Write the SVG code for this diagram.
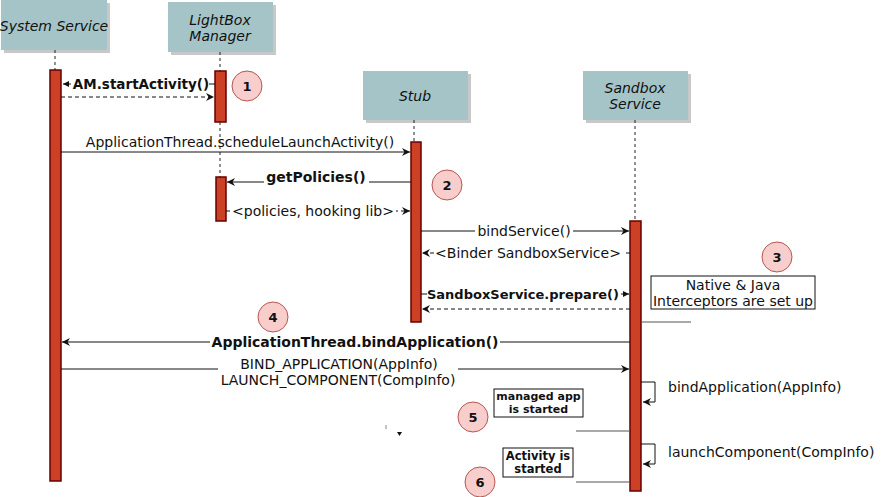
<svg xmlns="http://www.w3.org/2000/svg" width="883" height="497" viewBox="0 0 883 497">
<defs>
<style>
.actor{fill:#a4c4c8}
.shadow{fill:#c8c8c8}
.at{font-family:"DejaVu Sans",Verdana,sans-serif;font-size:14px;font-style:italic;fill:#111;text-anchor:middle}
.life{stroke:#222;stroke-width:1;stroke-dasharray:3,3;fill:none}
.bar{fill:#cc4125;stroke:#660000;stroke-width:1.5}
.msg{stroke:#111;stroke-width:1;fill:none}
.ret{stroke:#111;stroke-width:1;fill:none;stroke-dasharray:4,3}
.lbl{font-family:"DejaVu Sans",Verdana,sans-serif;font-size:14px;fill:#111;text-anchor:middle}
.b{font-weight:bold}
.lbg{fill:#fff}
.circ{fill:#f8cecc;stroke:#b85450;stroke-width:1}
.num{font-family:"DejaVu Sans",Verdana,sans-serif;font-size:13px;font-weight:bold;fill:#111;text-anchor:middle}
.note{fill:#fff;stroke:#111;stroke-width:1}
.nt{font-family:"DejaVu Sans",Verdana,sans-serif;fill:#111;text-anchor:middle}
.gl{stroke:#555;stroke-width:1;fill:none}
</style>
<marker id="ah" markerWidth="10" markerHeight="8" refX="8" refY="4" orient="auto" markerUnits="userSpaceOnUse">
<path d="M0,0 L8,4 L0,8 L2.5,4 z" fill="#111"/>
</marker>
<marker id="ahs" markerWidth="8" markerHeight="6" refX="6" refY="3" orient="auto" markerUnits="userSpaceOnUse">
<path d="M0,0 L6,3 L0,6 z" fill="#111"/>
</marker>
</defs>
<rect width="883" height="497" fill="#fff"/>

<g id="system-service">
<rect class="shadow" x="4" y="3" width="106" height="50"/>
<rect class="actor" x="1" y="0" width="106" height="50"/>
<text class="at" x="54" y="31">System Service</text>
<line class="life" x1="55" y1="50" x2="55" y2="70"/>
<rect class="bar" x="50" y="70" width="11" height="411"/>
</g>

<g id="lightbox-manager">
<rect class="shadow" x="171" y="5" width="105" height="50"/>
<rect class="actor" x="168" y="2" width="105" height="50"/>
<text class="at" x="220" y="25">LightBox</text>
<text class="at" x="220" y="41">Manager</text>
<line class="life" x1="220" y1="52" x2="220" y2="71"/>
<rect class="bar" x="215" y="71" width="11" height="51"/>
<line class="life" x1="220" y1="122" x2="220" y2="177"/>
<rect class="bar" x="216" y="177" width="10" height="44"/>
</g>

<g id="stub">
<rect class="shadow" x="366" y="74" width="105" height="49"/>
<rect class="actor" x="363" y="71" width="105" height="49"/>
<text class="at" x="415" y="101">Stub</text>
<line class="life" x1="414" y1="120" x2="414" y2="142"/>
<rect class="bar" x="411" y="142" width="10" height="180"/>
</g>

<g id="sandbox-service">
<rect class="shadow" x="586" y="74" width="105" height="49"/>
<rect class="actor" x="583" y="71" width="105" height="49"/>
<text class="at" x="635" y="93">Sandbox</text>
<text class="at" x="635" y="109">Service</text>
<line class="life" x1="635" y1="120" x2="635" y2="221"/>
<rect class="bar" x="630" y="221" width="11" height="270"/>
</g>

<g id="connectors">
<line class="msg" x1="215" y1="84" x2="63" y2="84" marker-end="url(#ahs)"/>
<rect class="lbg" x="71" y="75" width="138" height="17"/>
<text class="lbl b" x="141" y="89" style="font-size:13.5px">AM.startActivity()</text>
<line class="ret" x1="61" y1="97" x2="214" y2="97" marker-end="url(#ah)"/>
<line class="msg" x1="61" y1="152" x2="410" y2="152" marker-end="url(#ah)"/>
<text class="lbl" x="240" y="147">ApplicationThread.scheduleLaunchActivity()</text>
<line class="msg" x1="411" y1="182" x2="227" y2="182" marker-end="url(#ah)"/>
<rect class="lbg" x="264" y="170" width="105" height="17"/>
<text class="lbl b" x="316" y="182">getPolicies()</text>
<line class="ret" x1="226" y1="211" x2="410" y2="211" marker-end="url(#ah)"/>
<rect class="lbg" x="230" y="202" width="166" height="18"/>
<text class="lbl" x="313" y="216">&lt;policies, hooking lib&gt;</text>
<line class="msg" x1="421" y1="231" x2="629" y2="231" marker-end="url(#ah)"/>
<rect class="lbg" x="475" y="222" width="98" height="18"/>
<text class="lbl" x="524" y="236">bindService()</text>
<line class="ret" x1="630" y1="253" x2="422" y2="253" marker-end="url(#ah)"/>
<rect class="lbg" x="434" y="244" width="189" height="18"/>
<text class="lbl" x="528" y="258">&lt;Binder SandboxService&gt;</text>
<line class="msg" x1="421" y1="294" x2="629" y2="294" marker-end="url(#ahs)"/>
<rect class="lbg" x="427" y="285" width="194" height="17"/>
<text class="lbl b" x="523" y="299" style="font-size:13px">SandboxService.prepare()</text>
<line class="ret" x1="630" y1="309" x2="422" y2="309" marker-end="url(#ah)"/>
<line class="msg" x1="630" y1="342" x2="62" y2="342" marker-end="url(#ah)"/>
<rect class="lbg" x="210" y="333" width="290" height="17"/>
<text class="lbl b" x="355" y="347">ApplicationThread.bindApplication()</text>
<line class="msg" x1="61" y1="369" x2="629" y2="369" marker-end="url(#ah)"/>
<rect class="lbg" x="218" y="356" width="240" height="34"/>
<text class="lbl" x="339" y="369">BIND_APPLICATION(AppInfo)</text>
<text class="lbl" x="338" y="385">LAUNCH_COMPONENT(CompInfo)</text>
<path class="msg" d="M641,382 H655 V402 H643" marker-end="url(#ah)"/>
<text class="lbl" x="668" y="392" style="text-anchor:start">bindApplication(AppInfo)</text>
<path class="msg" d="M641,444 H655 V464 H643" marker-end="url(#ah)"/>
<text class="lbl" x="668" y="457" style="text-anchor:start">launchComponent(CompInfo)</text>
<line class="gl" x1="641" y1="322" x2="691" y2="322"/>
<line class="gl" x1="576" y1="431" x2="630" y2="431"/>
<line class="gl" x1="576" y1="482" x2="630" y2="482"/>
<line x1="386" y1="425" x2="386" y2="429" stroke="#888" stroke-width="1"/>
<path d="M397,432 L402,432 L399.5,436 z" fill="#111"/>
</g>

<g id="note-interceptors">
<rect class="note" x="651" y="276" width="164" height="33"/>
<text class="nt" x="733" y="290" font-size="14">Native &amp; Java</text>
<text class="nt" x="733" y="306" font-size="14">Interceptors are set up</text>
</g>
<g id="note-managed-app">
<rect class="note" x="494" y="389" width="89" height="28"/>
<text class="nt b" x="538.5" y="400" font-size="11">managed app</text>
<text class="nt b" x="538.5" y="413" font-size="11">is started</text>
</g>
<g id="note-activity">
<rect class="note" x="503" y="448" width="70" height="29"/>
<text class="nt b" x="538" y="460" font-size="11.5">Activity is</text>
<text class="nt b" x="538" y="473" font-size="11.5">started</text>
</g>

<g id="step-1"><circle class="circ" cx="247" cy="86" r="15"/><text class="num" x="247" y="91">1</text></g>
<g id="step-2"><circle class="circ" cx="447" cy="185" r="15"/><text class="num" x="447" y="190">2</text></g>
<g id="step-3"><circle class="circ" cx="777" cy="257" r="15"/><text class="num" x="777" y="262">3</text></g>
<g id="step-4"><circle class="circ" cx="273" cy="317" r="15"/><text class="num" x="273" y="322">4</text></g>
<g id="step-5"><circle class="circ" cx="473" cy="417" r="15"/><text class="num" x="473" y="422">5</text></g>
<g id="step-6"><circle class="circ" cx="480" cy="482" r="15"/><text class="num" x="480" y="487">6</text></g>
</svg>
